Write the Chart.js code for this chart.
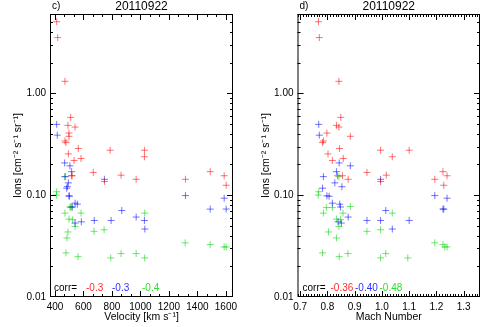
<!DOCTYPE html>
<html>
<head>
<meta charset="utf-8">
<script src="https://cdn.jsdelivr.net/npm/chart.js@4.4.0/dist/chart.umd.min.js"></script>
<style>
  body { margin: 0; background: #fff; width: 496px; height: 327px; overflow: hidden; position: relative; }
  canvas { position: absolute; top: 0; }
  #left { left: 0; }
  #right { left: 248px; }
</style>
</head>
<body>
<canvas id="left" width="248" height="327"></canvas>
<canvas id="right" width="248" height="327"></canvas>
<script>
// ion intensities (same events in both panels), velocity and Mach number for each
const redIons = [5.04, 3.52, 1.31, 0.58, 0.484, 0.466, 0.407, 0.378, 0.34, 0.328, 0.287, 0.276, 0.276, 0.254, 0.238, 0.229, 0.219, 0.167, 0.170, 0.157, 0.155, 0.155, 0.155, 0.143, 0.143, 0.136, 0.125];
const redVel = [412, 419, 470, 510, 491, 541, 498, 498, 470, 477, 564, 787, 1028, 494, 1028, 583, 534, 669, 1490, 864, 517, 520, 1588, 970, 1316, 747, 1602];
const redMach = [0.767, 0.770, 0.842, 0.849, 0.833, 0.842, 0.798, 0.884, 0.785, 0.782, 0.844, 0.995, 1.100, 0.802, 1.038, 0.858, 0.818, 0.945, 1.224, 1.016, 0.837, 0.855, 1.239, 0.876, 1.194, 0.995, 1.227];

const blueIons = [0.495, 0.388, 0.207, 0.194, 0.170, 0.152, 0.132, 0.121, 0.117, 0.0985, 0.0975, 0.0834, 0.0815, 0.0765, 0.0609, 0.0532, 0.0547, 0.0564, 0.0564, 0.0706, 0.0465, 0.0564, 0.143, 0.099, 0.0933, 0.0729, 0.073];
const blueVel = [412, 416, 468, 505, 517, 472, 494, 487, 482, 498, 501, 541, 557, 520, 970, 541, 585, 676, 794, 869, 1031, 1028, 747, 1316, 1588, 1490, 1602];
const blueMach = [0.768, 0.770, 0.843, 0.884, 0.833, 0.785, 0.827, 0.853, 0.782, 0.798, 0.806, 0.818, 0.845, 0.848, 0.876, 0.851, 0.839, 0.945, 0.995, 1.014, 1.038, 1.100, 0.995, 1.194, 1.239, 1.227, 1.224];

const greenIons = [0.108, 0.100, 0.1515, 0.0755, 0.0755, 0.0773, 0.0666, 0.0666, 0.0582, 0.0573, 0.0493, 0.0435, 0.038, 0.0441, 0.0457, 0.0666, 0.0271, 0.0249, 0.0267, 0.0242, 0.0267, 0.0242, 0.034, 0.0327, 0.031, 0.031];
const greenVel = [412, 410, 468, 505, 520, 510, 470, 583, 498, 524, 541, 491, 484, 674, 745, 1030, 477, 562, 864, 792, 970, 1030, 1314, 1490, 1588, 1602];
const greenMach = [0.768, 0.766, 0.842, 0.796, 0.818, 0.884, 0.785, 0.857, 0.833, 0.848, 0.842, 0.804, 0.833, 0.945, 0.995, 1.038, 0.782, 0.843, 0.875, 0.995, 1.014, 1.095, 1.194, 1.224, 1.231, 1.239];

const velTicks = [400, 600, 800, 1000, 1200, 1400, 1600];
const machTicks = [0.7, 0.8, 0.9, 1.0, 1.1, 1.2, 1.3];
const ionTicks = [0.01, 0.1, 1];
const corrVel = ["-0.3", "-0.3", "-0.4"];
const corrMach = ["-0.36", "-0.40", "-0.48"];

const FONT = '"Liberation Sans", Arial, sans-serif';
Chart.defaults.font.family = FONT;
Chart.defaults.color = "#000";

const markColors = ["rgba(255,0,0,0.55)", "rgba(0,0,255,0.55)", "rgba(0,210,0,0.55)"];
const textColors = ["#ff2a2a", "#3030ff", "#30dd30"];

function toPoints(xs, ys) {
  return xs.map((v, i) => ({ x: v, y: ys[i] }));
}

// IDL style box: frame, inward ticks on all sides, panel letter, title and corr line
const idlFrame = {
  id: "idlFrame",
  afterDraw(chart, args, o) {
    const { ctx, chartArea: a } = chart;
    const x = chart.scales.x, y = chart.scales.y;
    ctx.save();
    ctx.strokeStyle = "#000";
    ctx.lineWidth = 1;
    ctx.strokeRect(a.left + 0.5, a.top + 0.5, a.right - a.left - 1, a.bottom - a.top - 1);
    ctx.beginPath();
    const xTick = (v, len) => {
      const p = Math.round(x.getPixelForValue(v)) + 0.5;
      if (p < a.left || p > a.right) return;
      ctx.moveTo(p, a.bottom); ctx.lineTo(p, a.bottom - len);
      ctx.moveTo(p, a.top); ctx.lineTo(p, a.top + len);
    };
    const yTick = (v, len) => {
      const p = Math.round(y.getPixelForValue(v)) + 0.5;
      if (p < a.top || p > a.bottom) return;
      ctx.moveTo(a.left, p); ctx.lineTo(a.left + len, p);
      ctx.moveTo(a.right, p); ctx.lineTo(a.right - len, p);
    };
    o.xMinor.forEach((v) => xTick(v, 3));
    o.xMajor.forEach((v) => xTick(v, 6));
    [0.01, 0.1, 1].forEach((d) => {
      for (let k = 1; k <= 9; k++) yTick(d * k, k === 1 ? 6 : 3);
    });
    ctx.stroke();

    ctx.fillStyle = "#000";
    ctx.textBaseline = "middle";
    ctx.font = "10px " + FONT;
    ctx.textAlign = "left";
    ctx.fillText(o.tag, a.left + 2, 6);
    ctx.font = "12px " + FONT;
    ctx.textAlign = "center";
    ctx.fillText(o.title, (a.left + a.right) / 2, 7);

    ctx.font = "10px " + FONT;
    ctx.textAlign = "left";
    const cy = a.bottom - 9;
    ctx.fillText("corr=", a.left + o.corrX[0], cy);
    o.corr.forEach((t, i) => {
      ctx.fillStyle = textColors[i];
      ctx.fillText(t, a.left + o.corrX[i + 1], cy);
    });
    ctx.restore();
  },
};

function makePanel(id, xs, xOpts, frameOpts) {
  const series = [
    toPoints(xs[0], redIons),
    toPoints(xs[1], blueIons),
    toPoints(xs[2], greenIons),
  ];
  return new Chart(document.getElementById(id), {
    type: "scatter",
    data: {
      datasets: series.map((d, i) => ({
        data: d,
        pointStyle: "cross",
        pointRadius: 3.5,
        borderWidth: 1,
        borderColor: markColors[i],
        backgroundColor: markColors[i],
      })),
    },
    options: {
      responsive: false,
      animation: false,
      devicePixelRatio: 1,
      events: [],
      layout: { padding: { top: 14, right: frameOpts.padRight, left: 0, bottom: 0 } },
      plugins: { legend: { display: false }, tooltip: { enabled: false }, idlFrame: frameOpts },
      scales: {
        x: {
          type: "linear",
          min: xOpts.min,
          max: xOpts.max,
          grid: { display: false, drawTicks: false, tickLength: 0 },
          border: { display: false },
          afterBuildTicks: (s) => { s.ticks = xOpts.ticks.map((v) => ({ value: v })); },
          afterFit: (s) => { s.height = 30; },
          ticks: {
            padding: 4,
            maxRotation: 0,
            autoSkip: false,
            font: { size: 10 },
            callback: xOpts.fmt,
          },
          title: { display: true, text: xOpts.title, font: { size: 10.5 }, padding: { top: 0, bottom: 4 } },
        },
        y: {
          type: "logarithmic",
          min: 0.01,
          max: 6,
          grid: { display: false, drawTicks: false, tickLength: 0 },
          border: { display: false },
          afterBuildTicks: (s) => { s.ticks = ionTicks.map((v) => ({ value: v })); },
          afterFit: (s) => { s.width = frameOpts.yWidth; },
          ticks: {
            padding: 4,
            font: { size: 10 },
            callback: (v) => Number(v).toFixed(2),
          },
          title: { display: true, text: "Ions [cm\u207B\u00B2 s\u207B\u00B9 sr\u207B\u00B9]", font: { size: 10.5 }, padding: { top: 12, bottom: 0 } },
        },
      },
    },
    plugins: [idlFrame],
  });
}

const velMinor = [];
for (let k = -1; k <= 19; k++) velMinor.push(400 + (200 / 3) * k);
const machMinor = [];
for (let k = 69; k <= 136; k++) machMinor.push(k / 100);

makePanel("left", [redVel, blueVel, greenVel],
  { min: 365, max: 1650, ticks: velTicks, fmt: (v) => String(v), title: "Velocity [km s\u207B\u00B9]" },
  { tag: "c)", title: "20110922", corr: corrVel, corrX: [4, 36, 62, 92], xMajor: velTicks, xMinor: velMinor, padRight: 15, yWidth: 50 });

makePanel("right", [redMach, blueMach, greenMach],
  { min: 0.69, max: 1.36, ticks: machTicks, fmt: (v) => Number(v).toFixed(1), title: "Mach Number" },
  { tag: "d)", title: "20110922", corr: corrMach, corrX: [5, 33, 57.5, 82], xMajor: machTicks, xMinor: machMinor, padRight: 16, yWidth: 49.5 });
</script>
</body>
</html>
